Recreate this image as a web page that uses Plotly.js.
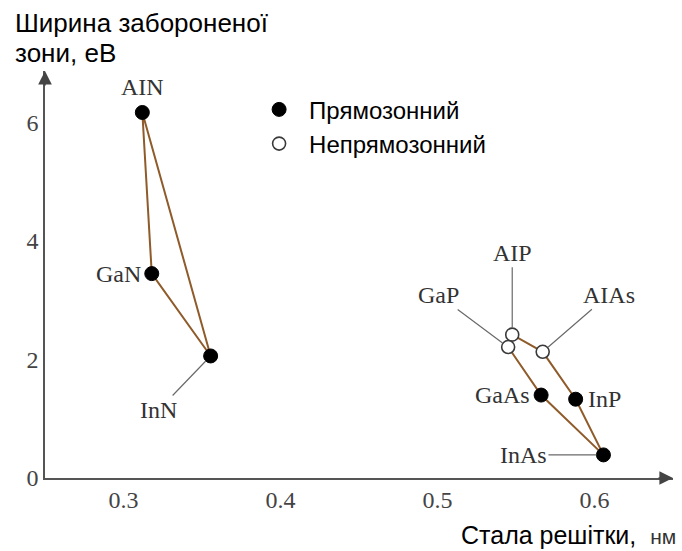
<!DOCTYPE html>
<html>
<head>
<meta charset="utf-8">
<script src="https://cdn.plot.ly/plotly-3.0.1.min.js"></script>
<style>html,body{margin:0;padding:0;background:#fff;}#chart{width:682px;height:551px;}</style>
</head>
<body>
<div id="chart"></div>
<script>
// ---- data ----
const materials = ['AIN', 'GaN', 'InN', 'AIP', 'GaP', 'AIAs', 'GaAs', 'InP', 'InAs'];
const latticeNm = [0.312, 0.318, 0.3555, 0.5476, 0.545, 0.567, 0.566, 0.588, 0.6057];
const bandGapEv = [6.17, 3.45, 2.06, 2.42, 2.21, 2.13, 1.40, 1.33, 0.39];
const isDirect  = [true, true, true, false, false, false, true, true, true];
const nitrideLoop = ['AIN', 'GaN', 'InN', 'AIN'];
const iiivLoop = ['GaP', 'GaAs', 'InAs', 'InP', 'AIAs', 'AIP', 'GaP'];
const xTicks = [0.3, 0.4, 0.5, 0.6];
const yTicks = [0, 2, 4, 6];
const legendNames = ['Прямозонний', 'Непрямозонний'];
const yTitleLines = ['Ширина забороненої', 'зони, еВ'];
const xTitle = 'Стала решітки,';
const xUnit = 'нм';

// label placement (style only)
const labelStyle = {
  'AIN':  {leader: false, xanchor: 'center', yanchor: 'bottom', xshift: 0, yshift: 10},
  'GaN':  {leader: false, xanchor: 'right', yanchor: 'middle', xshift: -9, yshift: 0},
  'InN':  {leader: true, ax: -52, ay: 54},
  'AIP':  {leader: true, ax: 0, ay: -82},
  'GaP':  {leader: true, ax: -70, ay: -52},
  'AIAs': {leader: true, ax: 66, ay: -57},
  'GaAs': {leader: false, xanchor: 'right', yanchor: 'middle', xshift: -9, yshift: 0},
  'InP':  {leader: false, xanchor: 'left', yanchor: 'middle', xshift: 10, yshift: 0},
  'InAs': {leader: true, ax: -80, ay: 0}
};

const idx = n => materials.indexOf(n);
const brown = '#8f5b2a';
const serif = 'Liberation Serif, Times New Roman, serif';
const sans = 'Liberation Sans, Arial, sans-serif';

const traces = [
  {x: nitrideLoop.map(n => latticeNm[idx(n)]), y: nitrideLoop.map(n => bandGapEv[idx(n)]),
   mode: 'lines', line: {color: brown, width: 2}, showlegend: false, hoverinfo: 'skip'},
  {x: iiivLoop.map(n => latticeNm[idx(n)]), y: iiivLoop.map(n => bandGapEv[idx(n)]),
   mode: 'lines', line: {color: brown, width: 2}, showlegend: false, hoverinfo: 'skip'},
  {x: latticeNm.filter((v, i) => isDirect[i]), y: bandGapEv.filter((v, i) => isDirect[i]),
   name: legendNames[0], mode: 'markers',
   marker: {size: 14, color: '#000', line: {color: '#000', width: 1}}},
  {x: latticeNm.filter((v, i) => !isDirect[i]), y: bandGapEv.filter((v, i) => !isDirect[i]),
   name: legendNames[1], mode: 'markers',
   marker: {size: 13, color: '#fff', line: {color: '#3a3a3a', width: 1.6}}}
];

const annotations = materials.map((n, i) => {
  const s = labelStyle[n];
  const base = {x: latticeNm[i], y: bandGapEv[i], xref: 'x', yref: 'y', text: n,
    font: {family: serif, size: 24, color: '#333'}};
  if (s.leader) {
    return Object.assign(base, {showarrow: true, arrowhead: 0, arrowwidth: 1.2,
      arrowcolor: '#6a6a6a', ax: s.ax, ay: s.ay, standoff: 7});
  }
  return Object.assign(base, {showarrow: false, xanchor: s.xanchor, yanchor: s.yanchor,
    xshift: s.xshift, yshift: s.yshift});
});

// axis arrowheads
annotations.push({x: 0, y: 1, xref: 'paper', yref: 'paper', ax: 0, ay: 16, text: '',
  showarrow: true, arrowhead: 2, arrowsize: 1.7, arrowwidth: 1.6, arrowcolor: '#444'});
annotations.push({x: 1, y: 0, xref: 'paper', yref: 'paper', ax: -16, ay: 0, text: '',
  showarrow: true, arrowhead: 2, arrowsize: 1.7, arrowwidth: 1.6, arrowcolor: '#444'});

// axis titles
const yTitleY = [1.119, 1.045];
yTitleLines.forEach((t, k) => annotations.push({x: -0.051, y: yTitleY[k], xref: 'paper', yref: 'paper',
  xanchor: 'left', yanchor: 'middle', align: 'left', showarrow: false, text: t,
  font: {family: sans, size: 26, color: '#000'}}));
annotations.push({x: 1.008, y: -0.140, xref: 'paper', yref: 'paper', xanchor: 'right', yanchor: 'middle',
  showarrow: false,
  text: xTitle + '  <span style="font-size:21px;color:#333">' + xUnit + '</span>',
  font: {family: sans, size: 25, color: '#000'}});

const layout = {
  width: 682, height: 551,
  margin: {l: 45, r: 9, t: 71, b: 73},
  paper_bgcolor: '#fff', plot_bgcolor: '#fff',
  showlegend: true,
  legend: {x: 0.325, y: 0.96, xanchor: 'left', yanchor: 'top', bgcolor: 'rgba(0,0,0,0)',
    font: {family: sans, size: 24, color: '#000'}, itemwidth: 50, tracegroupgap: 0},
  xaxis: {range: [0.25, 0.65], tickvals: xTicks, ticktext: xTicks.map(v => v.toFixed(1)),
    showgrid: false, zeroline: false, showline: true, linecolor: '#555', linewidth: 1.6,
    ticks: '', tickfont: {family: serif, size: 24, color: '#444'}, fixedrange: true},
  yaxis: {range: [0, 6.87], tickvals: yTicks, ticktext: yTicks.map(String),
    showgrid: false, zeroline: false, showline: true, linecolor: '#555', linewidth: 1.6,
    ticks: '', tickfont: {family: serif, size: 24, color: '#444'}, fixedrange: true},
  annotations: annotations
};

Plotly.newPlot('chart', traces, layout, {displayModeBar: false, staticPlot: true});
</script>
</body>
</html>
